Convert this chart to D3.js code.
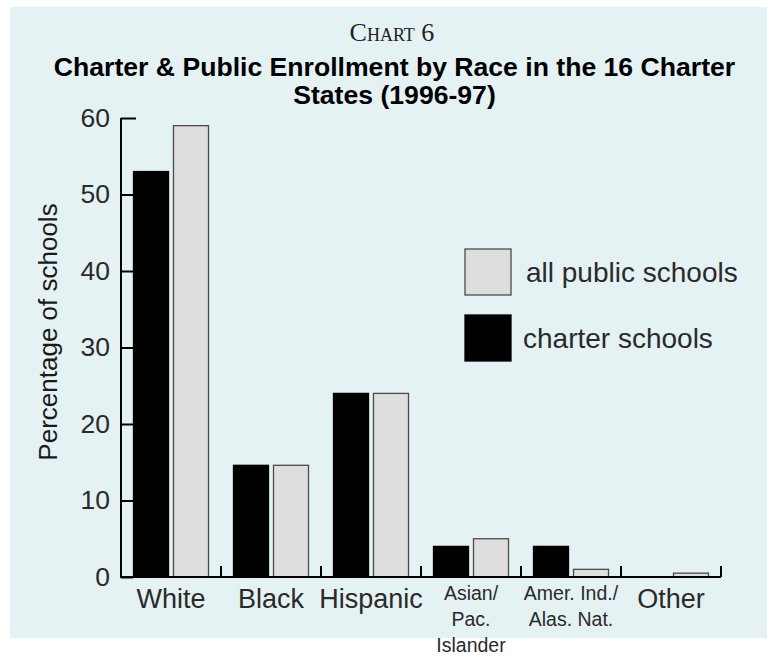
<!DOCTYPE html>
<html>
<head>
<meta charset="utf-8">
<script src="https://cdn.jsdelivr.net/npm/d3@7"></script>
<style>
  html, body { margin: 0; padding: 0; background: #ffffff; }
  svg { display: block; }
  text { font-family: "Liberation Sans", Arial, Helvetica, sans-serif; }
</style>
</head>
<body>
<svg id="chart" width="767" height="656"></svg>
<script>
// ---- data ----
const categories = ["White", "Black", "Hispanic", "Asian/Pac. Islander", "Amer. Ind./Alas. Nat.", "Other"];
const categoryLabelLines = [["White"], ["Black"], ["Hispanic"], ["Asian/", "Pac.", "Islander"], ["Amer. Ind./", "Alas. Nat."], ["Other"]];
const series = ["charter schools", "all public schools"];
const charterValues = [53, 14.6, 24, 4, 4, 0];
const publicValues = [59, 14.6, 24, 5, 1, 0.5];
const yTicks = [0, 10, 20, 30, 40, 50, 60];
const legendOrder = ["all public schools", "charter schools"];
const titleKicker = "Chart 6";
const titleLines = ["Charter & Public Enrollment by Race in the 16 Charter", "States (1996-97)"];
const yLabel = "Percentage of schools";

const colors = { "charter schools": "#000000", "all public schools": "#dedede" };
const strokes = { "charter schools": "#000000", "all public schools": "#4a4a4a" };

const svg = d3.select("#chart");

// background panel
svg.append("rect").attr("x", 10).attr("y", 7).attr("width", 757).attr("height", 631).attr("fill", "#e4f2f3");

// titles
svg.append("text").attr("x", 392).attr("y", 41).attr("text-anchor", "middle")
  .style("font-family", "'Liberation Serif', 'Times New Roman', serif")
  .style("font-variant", "small-caps").style("font-size", "26px").attr("fill", "#222")
  .text(titleKicker);
svg.selectAll("text.title").data(titleLines).enter().append("text")
  .attr("class", "title")
  .attr("x", 394.5).attr("y", (d, i) => 75.5 + i * 28.5)
  .attr("text-anchor", "middle")
  .style("font-size", "26.6px").style("font-weight", "bold").attr("fill", "#000")
  .text(d => d);

// scales
const x = d3.scaleBand().domain(categories).range([121, 721]).paddingInner(0).paddingOuter(0);
const xs = d3.scaleBand().domain(series).range([0, x.bandwidth()]).paddingInner(0.1).paddingOuter(0.3);
const y = d3.scaleLinear().domain([0, 60]).range([577, 118]);

const rows = categories.map((c, i) => ({ cat: c, values: [
  { s: "charter schools", v: charterValues[i] },
  { s: "all public schools", v: publicValues[i] }
]}));

// bars
const g = svg.append("g");
const groups = g.selectAll("g.cat").data(rows).enter().append("g")
  .attr("transform", d => `translate(${x(d.cat)},0)`);
groups.selectAll("rect").data(d => d.values.filter(e => e.v > 0)).enter().append("rect")
  .attr("x", d => xs(d.s) + 0.5)
  .attr("y", d => y(d.v))
  .attr("width", xs.bandwidth() - 1)
  .attr("height", d => y(0) - y(d.v))
  .attr("fill", d => colors[d.s])
  .attr("stroke", d => strokes[d.s])
  .attr("stroke-width", 1.3);

// y axis
const yAxis = d3.axisLeft(y).tickValues(yTicks).tickSize(-12).tickPadding(11).tickFormat(d3.format("d"));
const ya = svg.append("g").attr("transform", "translate(121,0)").call(yAxis);
ya.select(".domain").attr("d", `M0,${y(60)}V${y(0)}`).attr("stroke", "#000").attr("stroke-width", 2);
ya.selectAll(".tick line").attr("stroke", "#000").attr("stroke-width", 2)
  .attr("x2", d => d === 60 ? 15 : 12);
ya.selectAll(".tick text").style("font-size", "26.5px").attr("fill", "#2a2a2a")
  .style("font-family", "'Liberation Sans', Arial, sans-serif");

// x axis line and separators
svg.append("line").attr("x1", 120).attr("x2", 721).attr("y1", y(0)).attr("y2", y(0))
  .attr("stroke", "#000").attr("stroke-width", 2);
svg.selectAll("line.sep").data(categories).enter().append("line").attr("class", "sep")
  .attr("x1", d => x(d) + x.bandwidth()).attr("x2", d => x(d) + x.bandwidth())
  .attr("y1", y(0)).attr("y2", y(0) - 11)
  .attr("stroke", "#000").attr("stroke-width", 2);

// x labels
categories.forEach((c, i) => {
  const lines = categoryLabelLines[i];
  const multi = lines.length > 1;
  const t = svg.append("text").attr("text-anchor", "middle")
    .attr("fill", "#2a2a2a")
    .style("font-size", multi ? "19.5px" : "27px");
  lines.forEach((ln, j) => {
    t.append("tspan").attr("x", x(c) + x.bandwidth() / 2)
      .attr("y", multi ? 600 + j * 26 : 608).text(ln);
  });
});

// y label
svg.append("text").attr("transform", "translate(57,332) rotate(-90)")
  .attr("text-anchor", "middle").style("font-size", "26px").attr("fill", "#1a1a1a")
  .text(yLabel);

// legend
const legend = svg.append("g");
const lg = legend.selectAll("g").data(legendOrder).enter().append("g")
  .attr("transform", (d, i) => `translate(465,${249 + i * 66})`);
lg.append("rect").attr("width", 46).attr("height", 46)
  .attr("fill", d => colors[d]).attr("stroke", d => strokes[d]).attr("stroke-width", 1.3);
lg.append("text").attr("x", d => d === "all public schools" ? 61 : 58).attr("y", 33)
  .style("font-size", "28px").attr("fill", "#2a2a2a").text(d => d);
</script>
</body>
</html>
